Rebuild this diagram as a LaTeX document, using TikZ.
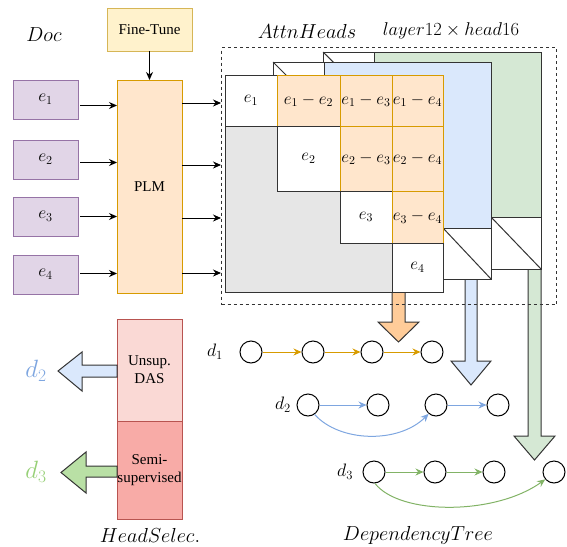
\RequirePackage{fix-cm}
\documentclass[tikz,border=0pt]{standalone}
\usepackage[no-math]{fontspec}
\setmainfont{Liberation Serif}
\usetikzlibrary{arrows.meta,calc}
\definecolor{eFill}{HTML}{E1D5E7}
\definecolor{eLine}{HTML}{9673A6}
\definecolor{ftFill}{HTML}{FFF2CC}
\definecolor{ftLine}{HTML}{D6B656}
\definecolor{oFill}{HTML}{FFE6CC}
\definecolor{oLine}{HTML}{D79B00}
\definecolor{oArr}{HTML}{FFCC99}
\definecolor{bFill}{HTML}{DAE8FC}
\definecolor{gFill}{HTML}{D5E8D4}
\definecolor{grFill}{HTML}{E6E6E6}
\definecolor{hs1Fill}{HTML}{FAD9D5}
\definecolor{hs2Fill}{HTML}{F8ABA7}
\definecolor{hsLine}{HTML}{B85450}
\definecolor{gArr}{HTML}{B9E0A5}
\definecolor{dBlue}{HTML}{7EA6E0}
\definecolor{dGreen}{HTML}{82B366}
\definecolor{dGreenT}{HTML}{97D077}
\definecolor{dark}{HTML}{333333}
\begin{document}
\begin{tikzpicture}[x=1pt,y=-1pt,
  base/.style={draw, inner sep=0pt, outer sep=0pt, line width=1pt},
  ebox/.style={base, fill=eFill, draw=eLine, minimum width=65pt, minimum height=39pt, anchor=north west, font=\fontsize{17.5}{20}\selectfont},
  txt15/.style={font=\fontsize{15}{18}\selectfont, align=center},
  head/.style={font=\fontsize{20.3}{23}\selectfont, inner sep=0pt},
  layer/.style={base, draw=dark, anchor=north west, minimum width=218pt, minimum height=217pt},
  wcell/.style={base, draw=dark, fill=white, anchor=north west, font=\fontsize{17}{20}\selectfont},
  ocell/.style={base, draw=oLine, fill=oFill, anchor=north west, font=\fontsize{17}{20}\selectfont},
  arr/.style={-{Stealth[length=8pt,width=7pt]}, line width=0.9pt},
  blk/.style={draw=dark, line width=1pt, line join=miter},
  dn/.style={circle, draw=black, line width=1pt, minimum size=22pt, inner sep=0pt},
  dl/.style={font=\fontsize{18}{20}\selectfont, inner sep=0pt},
  dedge/.style={-{Stealth[length=8pt,width=7pt]}, line width=1pt},
]
\useasboundingbox (0,0) rectangle (567,546);

% ---- left part
\node[head] (doc) at (44,35) {$Doc$};
\node[base, fill=ftFill, draw=ftLine, minimum width=85pt, minimum height=43pt, anchor=north west, txt15] (ft) at (107,8) {Fine-Tune};
\node[base, fill=oFill, draw=oLine, minimum width=65pt, minimum height=213pt, anchor=north west, txt15] (plm) at (117,80) {PLM};
\draw[arr] (ft.south) -- (plm.north);

\node[ebox] (e1) at (13,80) {$e_1$};
\node[ebox] (e2) at (13,140) {$e_2$};
\node[ebox] (e3) at (13,197) {$e_3$};
\node[ebox] (e4) at (13,255) {$e_4$};
\draw[arr] ([xshift=2pt,yshift=-6pt]e1.east) -- ([yshift=-6pt]e1.east -| plm.west);
\draw[arr] ([xshift=2pt,yshift=-3pt]e2.east) -- ([yshift=-3pt]e2.east -| plm.west);
\draw[arr] ([xshift=2pt]e3.east) -- (e3.east -| plm.west);
\draw[arr] ([xshift=2pt,yshift=1pt]e4.east) -- ([yshift=1pt]e4.east -| plm.west);

% ---- block arrows (behind layers)
\draw[blk, fill=oArr] (392,285) -- (392,322) -- (378,322) -- (398.5,342) -- (419,322) -- (405,322) -- (405,285) -- cycle;
\draw[blk, fill=bFill] (465,270) -- (465,361) -- (451,361) -- (471,385) -- (491,361) -- (477,361) -- (477,270) -- cycle;
\draw[blk, fill=gFill] (528,260) -- (528,436) -- (514,436) -- (534.5,460) -- (555,436) -- (541,436) -- (541,260) -- cycle;

% ---- attention head layers
\node[layer, fill=gFill] (L3) at (323,52) {};
\node[wcell, minimum width=51pt, minimum height=50pt] (L3a) at (323,52) {};
\draw[dark, line width=1pt] (L3a.north west) -- (L3a.south east);
\node[wcell, anchor=south east, minimum width=50pt, minimum height=52pt] (L3b) at (L3.south east) {};
\draw[dark, line width=1pt] (L3b.north west) -- (L3b.south east);

\node[layer, fill=bFill] (L2) at (273,62) {};
\node[wcell, minimum width=51pt, minimum height=51pt] (L2a) at (273,62) {};
\draw[dark, line width=1pt] (L2a.north west) -- (L2a.south east);
\node[wcell, anchor=south east, minimum width=48pt, minimum height=51pt] (L2b) at (L2.south east) {};
\draw[dark, line width=1pt] (L2b.north west) -- (L2b.south east);

\node[layer, fill=grFill] (L1) at (225,75) {};
\node[wcell, minimum width=52pt, minimum height=51pt] (c11) at (225,75) {$e_1$};
\node[ocell, minimum width=63pt, minimum height=51pt] (c12) at (277,75) {$e_1-e_2$};
\node[ocell, minimum width=52pt, minimum height=51pt] (c13) at (340,75) {$e_1-e_3$};
\node[ocell, minimum width=51pt, minimum height=51pt] (c14) at (392,75) {$e_1-e_4$};
\node[wcell, minimum width=63pt, minimum height=65pt] (c22) at (277,126) {$e_2$};
\node[ocell, minimum width=52pt, minimum height=65pt] (c23) at (340,126) {$e_2-e_3$};
\node[ocell, minimum width=51pt, minimum height=65pt] (c24) at (392,126) {$e_2-e_4$};
\node[wcell, minimum width=52pt, minimum height=52pt] (c33) at (340,191) {$e_3$};
\node[ocell, minimum width=51pt, minimum height=52pt] (c34) at (392,191) {$e_3-e_4$};
\node[wcell, minimum width=51pt, minimum height=49pt] (c44) at (392,243) {$e_4$};

\node[draw=dark, dashed, line width=1pt, inner sep=0pt, anchor=north west, minimum width=335pt, minimum height=257pt] (attn) at (221,47) {};
\node[head] (attnl) at (307,31) {$AttnHeads$};
\node[font=\fontsize{18.5}{21}\selectfont, inner sep=0pt] (lh) at (451,31) {$layer12\times head16$};

\draw[arr] (plm.east |- 0,103) -- (attn.west |- 0,103);
\draw[arr] (plm.east |- 0,165) -- (attn.west |- 0,165);
\draw[arr] (plm.east |- 0,218) -- (attn.west |- 0,218);
\draw[arr] (plm.east |- 0,273) -- (attn.west |- 0,273);

% ---- head selection
\node[base, fill=hs1Fill, draw=hsLine, minimum width=65pt, minimum height=102pt, anchor=north west, txt15] (hs1) at (117,319) {Unsup.\\DAS};
\node[base, fill=hs2Fill, draw=hsLine, minimum width=65pt, minimum height=98pt, anchor=north west, txt15] (hs2) at (117,421) {Semi-\\supervised};
\node[head] (hsl) at (150,535) {$HeadSelec.$};

\draw[blk, fill=bFill] (hs1.west |- 0,365) -- (82,365) -- (82,352) -- (58,371) -- (82,391) -- (82,377) -- (hs1.west |- 0,377) -- cycle;
\draw[blk, fill=gArr] (hs2.west |- 0,466) -- (86,466) -- (86,452) -- (61,472.5) -- (86,493) -- (86,477) -- (hs2.west |- 0,477) -- cycle;
\node[font=\fontsize{25}{28}\selectfont, text=dBlue, inner sep=0pt] (ld2) at (36,371) {$d_2$};
\node[font=\fontsize{25}{28}\selectfont, text=dGreenT, inner sep=0pt] (ld3) at (36,472) {$d_3$};

% ---- dependency trees
\node[dl] (d1) at (215,352) {$d_1$};
\node[dn] (n11) at (251,352) {};
\node[dn] (n12) at (313,352) {};
\node[dn] (n13) at (372,352) {};
\node[dn] (n14) at (432,352) {};
\draw[dedge, oLine] (n11) -- (n12);
\draw[dedge, oLine] (n12) -- (n13);
\draw[dedge, oLine] (n13) -- (n14);

\node[dl] (d2) at (283,405) {$d_2$};
\node[dn] (n21) at (308,405) {};
\node[dn] (n22) at (378,405) {};
\node[dn] (n23) at (436,405) {};
\node[dn] (n24) at (498,405) {};
\draw[dedge, dBlue] (n21) -- (n22);
\draw[dedge, dBlue] (n23) -- (n24);
\draw[dedge, dBlue] (n21.-55) .. controls +(25,28) and +(-30,30) .. (n23.-130);

\node[dl] (d3) at (345,472) {$d_3$};
\node[dn] (n31) at (374,472) {};
\node[dn] (n32) at (435,472) {};
\node[dn] (n33) at (494,472) {};
\node[dn] (n34) at (554,472) {};
\draw[dedge, dGreen] (n31) -- (n32);
\draw[dedge, dGreen] (n32) -- (n33);
\draw[dedge, dGreen] (n31.-85) .. controls +(25,32) and +(-50,36) .. (n34.-140);

\node[head] (dtl) at (418,535) {$DependencyTree$};
\end{tikzpicture}
\end{document}
